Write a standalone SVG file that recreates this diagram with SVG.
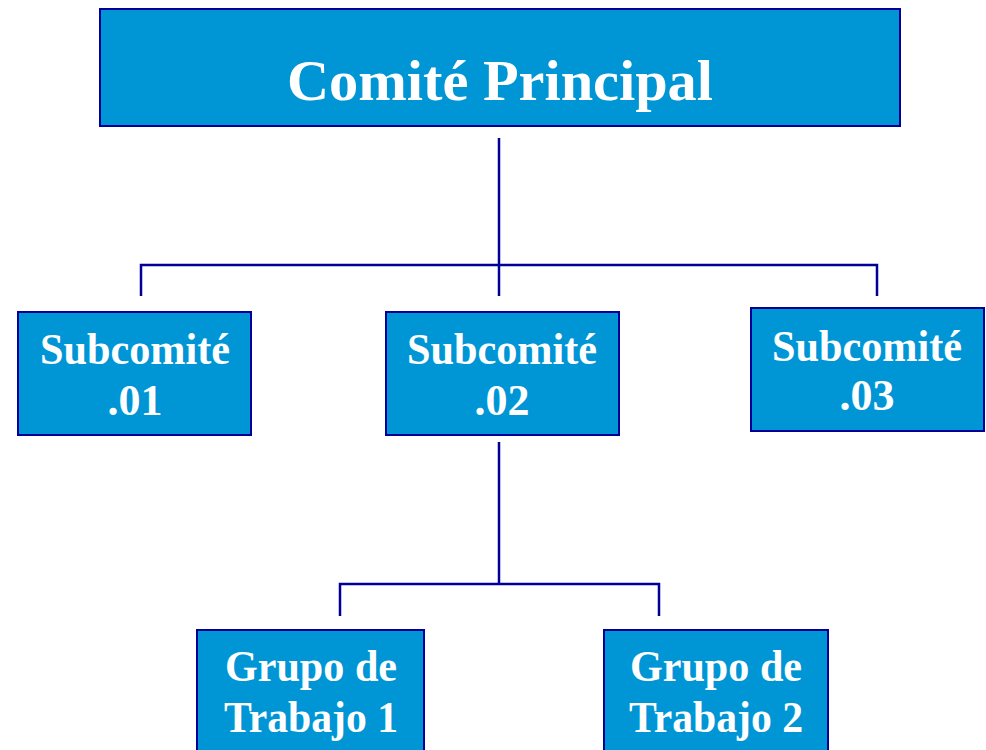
<svg xmlns="http://www.w3.org/2000/svg" width="986" height="750" viewBox="0 0 986 750">
<style>
.box{fill:#0096D6;stroke:#000099;stroke-width:2}
.t{fill:#ffffff;font-family:"Liberation Serif","Times New Roman",serif;font-weight:bold;text-anchor:middle}
.s{font-size:44px}
.big{font-size:58px}
.c{stroke:#000099;stroke-width:2.5;fill:none}
</style>
<rect width="986" height="750" fill="#ffffff"/>
<g id="connectors">
<line class="c" x1="499" y1="138" x2="499" y2="296"/>
<polyline class="c" points="141,296 141,265 877,265 877,296"/>
<line class="c" x1="499" y1="442" x2="499" y2="584"/>
<polyline class="c" points="340,616 340,584 659,584 659,616"/>
</g>
<g id="comite-principal">
<rect class="box" x="100" y="9" width="800" height="117"/>
<text class="t big" x="500" y="100" textLength="426" lengthAdjust="spacingAndGlyphs">Comité Principal</text>
</g>
<g id="subcomite-01">
<rect class="box" x="18" y="312" width="233" height="123"/>
<text class="t s" x="135" y="364" textLength="190" lengthAdjust="spacingAndGlyphs">Subcomité</text>
<text class="t s" x="135" y="415">.01</text>
</g>
<g id="subcomite-02">
<rect class="box" x="386" y="312" width="233" height="123"/>
<text class="t s" x="502" y="364" textLength="190" lengthAdjust="spacingAndGlyphs">Subcomité</text>
<text class="t s" x="502" y="415">.02</text>
</g>
<g id="subcomite-03">
<rect class="box" x="751" y="308" width="233" height="123"/>
<text class="t s" x="867" y="361" textLength="190" lengthAdjust="spacingAndGlyphs">Subcomité</text>
<text class="t s" x="867" y="410">.03</text>
</g>
<g id="grupo-1">
<rect class="box" x="197" y="630" width="227" height="130"/>
<text class="t s" x="311" y="681" textLength="172" lengthAdjust="spacingAndGlyphs">Grupo de</text>
<text class="t s" x="311" y="732" textLength="174" lengthAdjust="spacingAndGlyphs">Trabajo 1</text>
</g>
<g id="grupo-2">
<rect class="box" x="604" y="630" width="224" height="130"/>
<text class="t s" x="716" y="681" textLength="172" lengthAdjust="spacingAndGlyphs">Grupo de</text>
<text class="t s" x="716" y="732" textLength="174" lengthAdjust="spacingAndGlyphs">Trabajo 2</text>
</g>
</svg>
